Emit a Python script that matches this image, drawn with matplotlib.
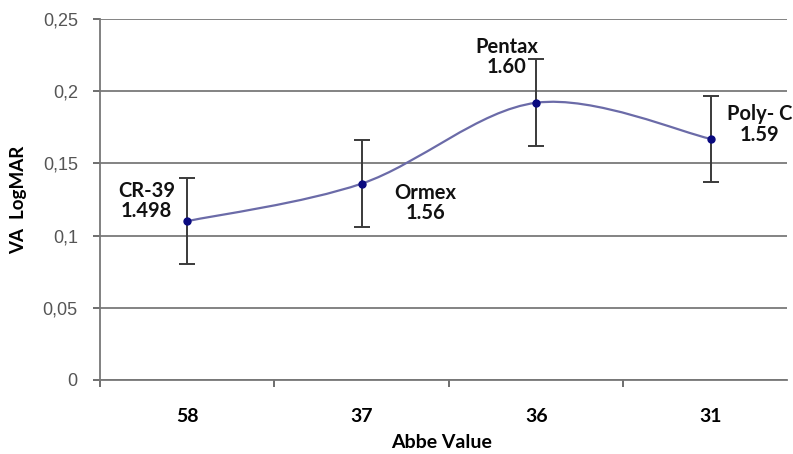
import matplotlib
matplotlib.use("Agg")
import matplotlib.pyplot as plt
import numpy as np
from matplotlib.path import Path
from matplotlib.patches import PathPatch

categories = ["58", "37", "36", "31"]
va_logmar = [0.110, 0.136, 0.192, 0.167]
errors = [0.030, 0.030, 0.030, 0.030]
materials = ["CR-39\n1.498", "Ormex\n1.56", "Pentax\n1.60", "Poly- C\n1.59"]
yticks = [0, 0.05, 0.1, 0.15, 0.2, 0.25]
ytick_labels = ["0", "0,05", "0,1", "0,15", "0,2", "0,25"]

W, H = 793, 454
fig = plt.figure(figsize=(W / 100, H / 100), dpi=100)
ax = fig.add_axes([100 / W, 1 - 380 / H, (787 - 100) / W, (380 - 19) / H])

x = np.arange(len(categories))
y = np.array(va_logmar)

# smoothed line (Catmull-Rom as Bezier, like spreadsheet smoothing)
verts = [(x[0], y[0])]
codes = [Path.MOVETO]
n = len(x)
for i in range(n - 1):
    p0 = np.array([x[max(i - 1, 0)], y[max(i - 1, 0)]])
    p1 = np.array([x[i], y[i]])
    p2 = np.array([x[i + 1], y[i + 1]])
    p3 = np.array([x[min(i + 2, n - 1)], y[min(i + 2, n - 1)]])
    c1 = p1 + (p2 - p0) / 6
    c2 = p2 - (p3 - p1) / 6
    verts += [tuple(c1), tuple(c2), tuple(p2)]
    codes += [Path.CURVE4] * 3
ax.add_patch(PathPatch(Path(verts, codes), facecolor="none", edgecolor="#6b6ba8",
                       lw=1.6, zorder=3))

ax.errorbar(x, y, yerr=errors, fmt="none", ecolor="#3a3a3a", elinewidth=1.4,
            capsize=6, capthick=1.4, zorder=2)
ax.plot(x, y, "o", color="#0a0a80", ms=5, zorder=4)

ax.set_xlim(-0.5, 3.5 - 11 / 175)
ax.set_ylim(0, 0.25)
ax.set_yticks(yticks)
ax.set_yticklabels(ytick_labels, fontsize=13, color="#555555", family="Liberation Sans")
ax.set_xticks(x)
ax.set_xticklabels(categories, fontsize=14, fontweight="bold", family="Lato")
ax.set_xticks([-0.5, 0.5, 1.5, 2.5], minor=True)
ax.tick_params(axis="x", which="major", length=0, pad=20)
ax.tick_params(axis="x", which="minor", length=5, width=1.2, color="#555555")
ax.tick_params(axis="y", length=5, width=1.2, color="#555555", pad=11)
ax.grid(axis="y", color="#7a7a7a", lw=1.3)
ax.set_axisbelow(True)
for s in ["top", "right"]:
    ax.spines[s].set_visible(False)
for s in ["left", "bottom"]:
    ax.spines[s].set_color("#777777")
    ax.spines[s].set_linewidth(1.3)

ax.set_ylabel("VA  LogMAR", fontsize=13.5, fontweight="bold", family="Lato", labelpad=11)
ax.set_xlabel("Abbe Value", fontsize=14, fontweight="bold", family="Lato")
ax.xaxis.set_label_coords((442 - 100) / 687, (380 - 442) / 361)
ax.xaxis.label.set_verticalalignment("center")

label_pos = [(-0.234, 0.124), (1.366, 0.1226), (1.83, 0.2237), (3.28, 0.177)]
for (lx, ly), t in zip(label_pos, materials):
    ax.text(lx, ly, t, ha="center", va="center", fontsize=14.5, fontweight="bold",
            family="Lato", linespacing=1.05, color="#111111")

fig.savefig("out.png", dpi=100)
